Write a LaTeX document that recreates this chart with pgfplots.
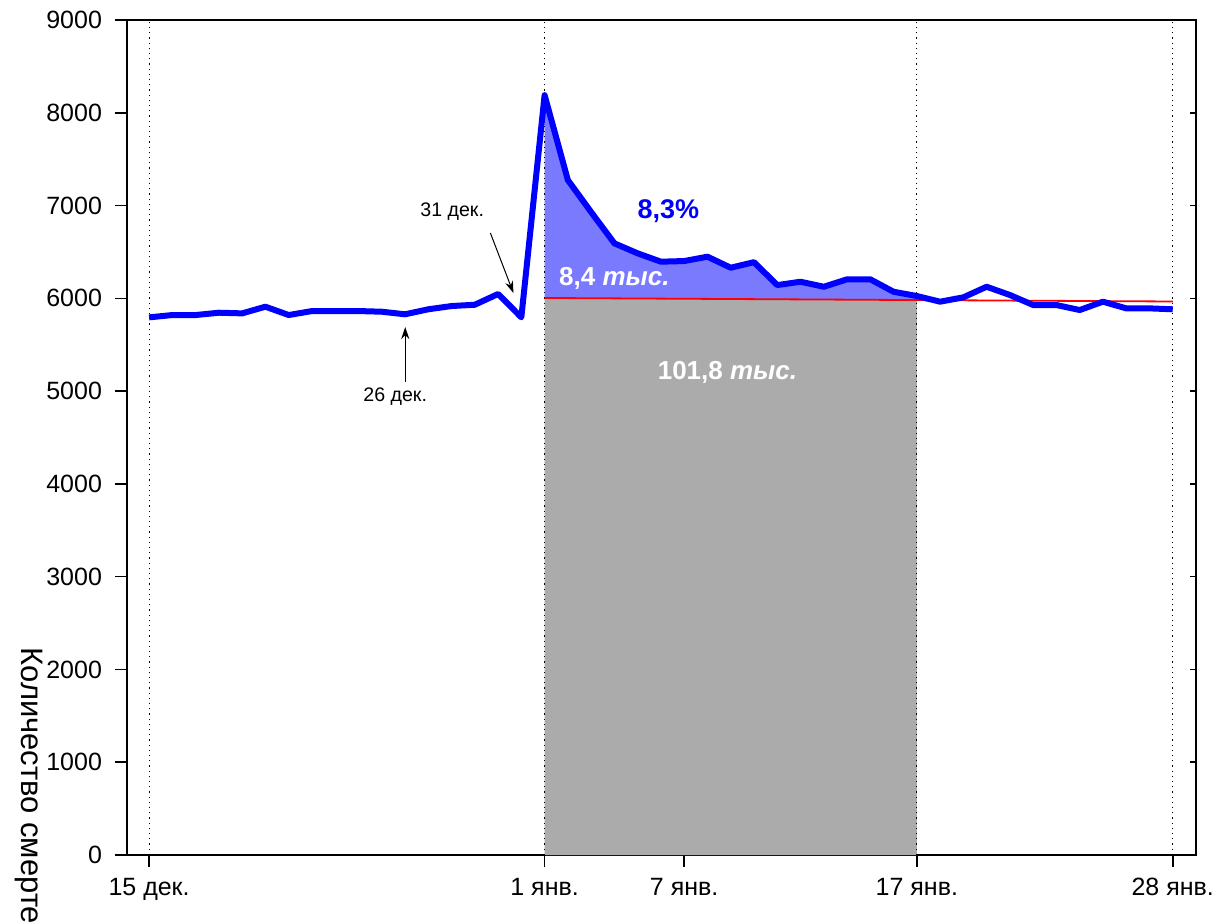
\documentclass[border=0pt]{standalone}
\usepackage{pgfplots}
\pgfplotsset{compat=1.18}
\usetikzlibrary{arrows.meta}
\usepackage{fontspec}
\setmainfont{Liberation Sans}
\definecolor{lineblue}{RGB}{0,0,255}
\definecolor{fillblue}{RGB}{122,122,255}
\definecolor{fillgrey}{RGB}{171,171,171}
\pgfplotstableread{
d v
0 5795
1 5820
2 5820
3 5845
4 5838
5 5910
6 5820
7 5863
8 5863
9 5863
10 5856
11 5828
12 5882
13 5917
14 5931
15 6047
16 5795
17 8190
18 7275
19 6930
20 6593
21 6485
22 6395
23 6402
24 6449
25 6330
26 6390
27 6143
28 6179
29 6125
30 6205
31 6205
32 6071
33 6025
34 5964
35 6011
36 6125
37 6036
38 5928
39 5928
40 5874
41 5964
42 5892
43 5892
44 5882
}\deaths
\begin{document}
\begin{tikzpicture}
\useasboundingbox (-63.5pt,-34pt) rectangle (546pt,427.5pt);
\begin{axis}[
  at={(0,0)}, anchor=south west,
  scale only axis, width=534.5pt, height=417.5pt,
  xmin=-0.95, xmax=45, ymin=0, ymax=9000,
  xtick={0,17,23,33,44},
  xticklabels={15 дек.,1 янв.,7 янв.,17 янв.,28 янв.},
  ytick={0,1000,...,9000},
  ytick pos=left, xtick pos=bottom,
  tick align=outside, major tick length=6pt,
  axis line style={line width=0.8pt},
  tick style={line width=0.8pt, black},
  tick label style={font=\fontsize{12.5}{14}\selectfont},
  /pgf/number format/assume math mode=true,
  /pgf/number format/1000 sep={},
  xticklabel style={yshift=-2pt},
  yticklabel style={xshift=-3pt},
  clip=false,
]
% blue excess area
\addplot[draw=none, fill=fillblue] coordinates {
(17,8190) (18,7275) (19,6930) (20,6593) (21,6485) (22,6395) (23,6402) (24,6449)
(25,6330) (26,6390) (27,6143) (28,6179) (29,6125) (30,6205) (31,6205) (32,6071)
(33,6025) (33,5981) (17,6004)} -- cycle;
% grey baseline area
\addplot[draw=none, fill=fillgrey] coordinates {(17,0) (17,6004) (33,5981) (33,0)} -- cycle;
% vertical dotted lines
\addplot[black, dotted, line width=0.6pt] coordinates {(0,0) (0,9000)};
\addplot[black, dotted, line width=0.6pt] coordinates {(17,0) (17,9000)};
\addplot[black, dotted, line width=0.6pt] coordinates {(33,0) (33,9000)};
\addplot[black, dotted, line width=0.6pt] coordinates {(44,0) (44,9000)};
% baseline
\addplot[red, line width=0.9pt] coordinates {(17,6004) (44,5966)};
% data
\addplot[lineblue, line width=3pt, line join=round] table[x=d, y=v] {\deaths};
% annotations
\node[font=\bfseries\fontsize{13.5}{15}\selectfont, text=lineblue] at (axis cs:22.32,6941) {8,3\%};
\node[font=\bfseries\fontsize{13}{15}\selectfont, text=white] at (axis cs:20.0,6219) {8,4 \textit{тыс.}};
\node[font=\bfseries\fontsize{13}{15}\selectfont, text=white] at (axis cs:24.86,5206) {101,8 \textit{тыс.}};
\node[font=\fontsize{9.8}{11}\selectfont] at (axis cs:13.03,6930) {31 дек.};
\node[font=\fontsize{9.8}{11}\selectfont] at (axis cs:10.58,4936) {26 дек.};
\draw[-{Stealth[length=6pt,width=4pt]}, line width=0.5pt] (axis cs:14.67,6704) -- (axis cs:15.66,6057);
\draw[-{Stealth[length=6pt,width=4pt]}, line width=0.5pt] (axis cs:11.01,5098) -- (axis cs:11.01,5691);
\end{axis}
\begin{axis}[
  at={(0,0)}, anchor=south west,
  scale only axis, width=534.5pt, height=417.5pt,
  xmin=-0.95, xmax=45, ymin=0, ymax=9000,
  axis x line=none, axis y line*=right,
  ytick={0,1000,...,9000}, yticklabels={},
  tick align=inside, major tick length=3pt,
  axis line style={line width=0.8pt, -},
  tick style={line width=0.8pt, black},
]
\end{axis}
\node[overlay, rotate=-90, anchor=west, inner sep=0pt, font=\fontsize{15.5}{17}\selectfont] at (-48.5pt,104pt) {Количество смертей};
\end{tikzpicture}
\end{document}
